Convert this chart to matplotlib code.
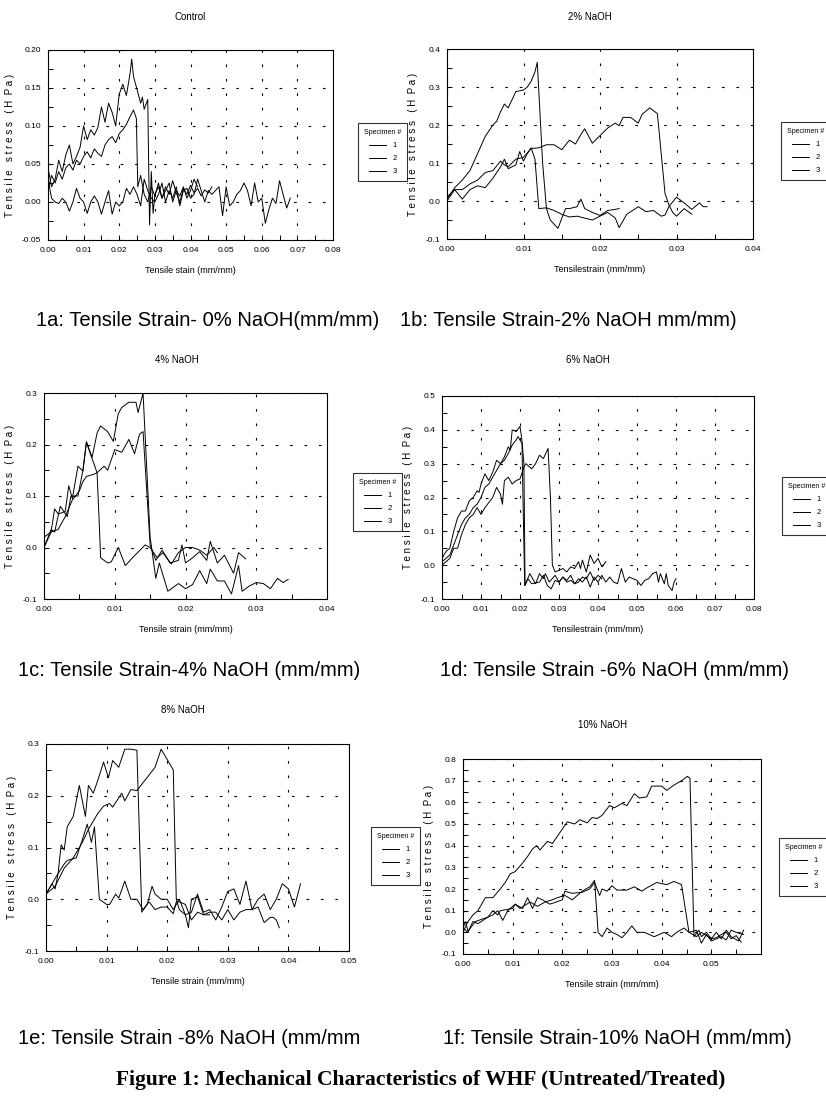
import matplotlib
matplotlib.use("Agg")
import matplotlib.pyplot as plt
from matplotlib.lines import Line2D
from matplotlib.ticker import MultipleLocator, FormatStrFormatter, FixedLocator

W, H = 826, 1110
SMALL = ['Liberation Sans', 'DejaVu Sans']

# ---- data: (strain mm/mm, stress MPa) per specimen ----
ctrl_s1 = [(0.000, 0.045), (0.001, 0.020), (0.002, 0.030), (0.003, 0.055), (0.004, 0.040), (0.005, 0.062),
           (0.006, 0.075), (0.007, 0.050), (0.008, 0.060), (0.009, 0.072), (0.010, 0.100), (0.011, 0.082),
           (0.012, 0.095), (0.013, 0.088), (0.014, 0.098), (0.015, 0.125), (0.016, 0.105), (0.017, 0.130),
           (0.018, 0.118), (0.019, 0.100), (0.020, 0.142), (0.021, 0.155), (0.022, 0.140), (0.023, 0.168),
           (0.0235, 0.188), (0.024, 0.165), (0.025, 0.148), (0.026, 0.130), (0.0265, 0.138), (0.027, 0.122),
           (0.028, 0.135), (0.0285, -0.030), (0.029, 0.040), (0.0295, -0.015), (0.030, 0.010), (0.031, 0.020),
           (0.032, 0.005), (0.033, 0.015), (0.034, 0.025), (0.035, 0.000), (0.036, 0.015), (0.037, 0.008),
           (0.038, 0.020), (0.039, 0.005), (0.040, 0.015), (0.041, 0.030), (0.042, 0.020)]
ctrl_s2 = [(0.000, 0.015), (0.001, 0.035), (0.002, 0.025), (0.003, 0.040), (0.004, 0.030), (0.005, 0.045),
           (0.006, 0.050), (0.007, 0.042), (0.008, 0.055), (0.009, 0.050), (0.010, 0.060), (0.011, 0.066),
           (0.012, 0.058), (0.013, 0.070), (0.014, 0.064), (0.015, 0.060), (0.016, 0.075), (0.017, 0.082),
           (0.018, 0.086), (0.019, 0.078), (0.020, 0.090), (0.021, 0.095), (0.022, 0.102), (0.023, 0.112),
           (0.024, 0.121), (0.0248, 0.110), (0.0252, 0.020), (0.026, 0.035), (0.027, 0.010), (0.028, 0.000),
           (0.029, 0.020), (0.030, 0.008), (0.031, 0.025), (0.032, 0.005), (0.033, 0.020), (0.034, 0.010),
           (0.035, 0.028), (0.036, 0.012), (0.037, 0.000), (0.038, 0.018), (0.039, 0.010), (0.040, 0.022),
           (0.041, 0.012), (0.042, 0.018), (0.043, 0.008), (0.044, 0.016), (0.045, 0.012), (0.046, 0.020)]
ctrl_s3 = [(0.000, 0.030), (0.001, 0.005), (0.002, 0.000), (0.003, -0.002), (0.004, 0.005), (0.005, 0.000),
           (0.006, -0.012), (0.007, 0.000), (0.008, 0.018), (0.009, 0.005), (0.010, 0.000), (0.011, -0.015),
           (0.012, 0.000), (0.013, 0.008), (0.014, 0.000), (0.015, -0.016), (0.016, 0.000), (0.017, 0.015),
           (0.018, -0.016), (0.019, 0.000), (0.020, -0.005), (0.021, 0.000), (0.022, 0.018), (0.023, 0.010),
           (0.024, 0.020), (0.025, 0.010), (0.026, -0.005), (0.027, 0.030), (0.028, 0.015), (0.029, 0.005),
           (0.030, 0.000), (0.031, 0.010), (0.032, 0.025), (0.033, 0.000), (0.034, 0.015), (0.035, 0.005),
           (0.036, 0.020), (0.037, -0.005), (0.038, 0.015), (0.039, 0.018), (0.040, 0.005), (0.041, 0.010),
           (0.042, 0.030), (0.043, 0.015), (0.044, 0.000), (0.045, 0.015), (0.046, 0.010), (0.047, 0.015),
           (0.048, 0.020), (0.049, -0.018), (0.050, 0.020), (0.051, -0.005), (0.052, 0.000), (0.053, 0.010),
           (0.054, 0.015), (0.055, 0.025), (0.056, 0.015), (0.057, -0.005), (0.058, 0.025), (0.059, 0.000),
           (0.060, 0.005), (0.061, -0.028), (0.062, -0.010), (0.063, 0.005), (0.064, -0.002), (0.065, 0.028),
           (0.066, 0.010), (0.067, -0.008), (0.068, 0.005)]

naoh2_s1 = [(0.000, 0.005), (0.001, 0.035), (0.002, 0.055), (0.003, 0.080), (0.004, 0.125), (0.005, 0.170),
            (0.006, 0.200), (0.0065, 0.210), (0.007, 0.235), (0.0075, 0.255), (0.008, 0.245), (0.009, 0.288),
            (0.010, 0.292), (0.0105, 0.300), (0.011, 0.315), (0.0115, 0.340), (0.0118, 0.365), (0.0125, 0.100),
            (0.013, -0.020), (0.0135, -0.050), (0.0145, -0.072), (0.0155, -0.020), (0.016, -0.020),
            (0.017, -0.015), (0.0175, 0.005), (0.018, -0.020), (0.019, -0.030), (0.020, -0.038),
            (0.021, -0.025), (0.022, -0.022), (0.0225, -0.020)]
naoh2_s2 = [(0.000, 0.010), (0.001, 0.030), (0.002, 0.005), (0.003, 0.030), (0.004, 0.040), (0.005, 0.035),
            (0.006, 0.060), (0.007, 0.090), (0.0075, 0.110), (0.008, 0.085), (0.009, 0.095), (0.0095, 0.130),
            (0.010, 0.105), (0.0105, 0.125), (0.011, 0.140), (0.0115, 0.110), (0.012, -0.020), (0.013, -0.018),
            (0.014, -0.025), (0.015, -0.035), (0.016, -0.042), (0.017, -0.040), (0.018, -0.045), (0.019, -0.050),
            (0.020, -0.040), (0.021, -0.030), (0.022, -0.045), (0.0225, -0.070), (0.0235, -0.035),
            (0.025, -0.015), (0.026, -0.028), (0.027, -0.025), (0.028, -0.040), (0.0285, -0.037),
            (0.029, -0.015), (0.030, 0.010), (0.031, -0.005), (0.032, -0.022), (0.033, -0.005),
            (0.0335, -0.015), (0.034, -0.015)]
naoh2_s3 = [(0.000, 0.000), (0.001, 0.030), (0.002, 0.030), (0.003, 0.045), (0.004, 0.055), (0.005, 0.075),
            (0.006, 0.080), (0.007, 0.105), (0.0075, 0.095), (0.008, 0.090), (0.009, 0.110), (0.010, 0.115),
            (0.011, 0.138), (0.012, 0.140), (0.013, 0.148), (0.014, 0.148), (0.015, 0.135), (0.016, 0.160),
            (0.0168, 0.150), (0.0175, 0.175), (0.018, 0.190), (0.019, 0.152), (0.020, 0.172), (0.021, 0.192),
            (0.022, 0.205), (0.0225, 0.198), (0.023, 0.220), (0.024, 0.220), (0.025, 0.205), (0.0255, 0.228),
            (0.0265, 0.245), (0.0275, 0.230), (0.0285, 0.020), (0.029, -0.010), (0.0295, -0.030),
            (0.030, -0.040), (0.031, -0.020), (0.032, -0.035)]

naoh4_s1 = [(0.000, 0.000), (0.001, 0.030), (0.0015, 0.075), (0.002, 0.065), (0.003, 0.070), (0.0035, 0.120),
            (0.004, 0.095), (0.0048, 0.158), (0.0055, 0.148), (0.006, 0.205), (0.0068, 0.175), (0.0075, 0.222),
            (0.008, 0.236), (0.009, 0.225), (0.0098, 0.206), (0.0105, 0.260), (0.011, 0.272), (0.012, 0.282),
            (0.013, 0.282), (0.0133, 0.262), (0.014, 0.300), (0.015, 0.020), (0.0158, -0.060), (0.0163, -0.030),
            (0.0175, -0.085), (0.019, -0.070), (0.020, -0.080), (0.021, -0.072), (0.022, -0.045),
            (0.023, -0.070), (0.0235, -0.042), (0.0245, -0.065), (0.0255, -0.065), (0.0265, -0.090),
            (0.0275, -0.035), (0.028, -0.085), (0.029, -0.075), (0.030, -0.068), (0.031, -0.070),
            (0.032, -0.080), (0.033, -0.060), (0.0338, -0.068), (0.0345, -0.062)]
naoh4_s2 = [(0.000, 0.020), (0.001, 0.030), (0.002, 0.035), (0.003, 0.060), (0.004, 0.092), (0.005, 0.110),
            (0.0055, 0.128), (0.006, 0.138), (0.007, 0.142), (0.0075, 0.145), (0.0085, 0.158), (0.009, 0.150),
            (0.010, 0.190), (0.011, 0.185), (0.012, 0.210), (0.0128, 0.182), (0.0135, 0.220), (0.014, 0.225),
            (0.015, 0.005), (0.0158, -0.025), (0.0167, -0.005), (0.0178, -0.030), (0.019, -0.025),
            (0.0195, 0.005), (0.020, -0.030), (0.021, -0.020), (0.022, -0.008), (0.023, -0.025),
            (0.0235, 0.012), (0.0245, -0.030), (0.0255, -0.015), (0.0268, -0.050), (0.0275, -0.010),
            (0.0285, -0.022)]
naoh4_s3 = [(0.000, 0.000), (0.001, 0.035), (0.0015, 0.030), (0.0023, 0.080), (0.0033, 0.060), (0.0038, 0.100),
            (0.0048, 0.100), (0.0055, 0.150), (0.006, 0.205), (0.0066, 0.180), (0.007, 0.165), (0.0075, 0.145),
            (0.0078, 0.050), (0.008, -0.020), (0.009, -0.030), (0.0095, -0.028), (0.0105, 0.000),
            (0.0115, -0.035), (0.0125, -0.020), (0.0143, 0.005), (0.015, 0.000), (0.016, -0.020),
            (0.0168, -0.010), (0.018, -0.032), (0.019, -0.010), (0.020, 0.000), (0.021, 0.000),
            (0.022, -0.005), (0.023, -0.015), (0.024, 0.000), (0.0245, -0.010)]

naoh6_s1 = [(0.000, 0.020), (0.001, 0.040), (0.002, 0.050), (0.003, 0.100), (0.004, 0.140), (0.0045, 0.150),
            (0.005, 0.160), (0.006, 0.160), (0.007, 0.190), (0.008, 0.200), (0.009, 0.220), (0.0095, 0.215),
            (0.010, 0.240), (0.011, 0.270), (0.012, 0.250), (0.013, 0.275), (0.014, 0.310), (0.015, 0.300),
            (0.016, 0.320), (0.017, 0.350), (0.0175, 0.340), (0.018, 0.400), (0.019, 0.395), (0.020, 0.410),
            (0.0205, 0.370), (0.021, 0.300), (0.0213, -0.060), (0.0225, -0.025), (0.024, -0.055),
            (0.025, -0.025), (0.026, -0.040), (0.0265, -0.025), (0.0275, -0.050), (0.029, -0.030),
            (0.030, -0.050), (0.031, -0.035), (0.032, -0.045), (0.033, -0.030), (0.034, -0.055),
            (0.035, -0.050), (0.036, -0.035), (0.037, -0.040), (0.038, -0.020), (0.039, -0.045),
            (0.040, -0.030), (0.041, -0.040)]
naoh6_s2 = [(0.000, 0.010), (0.001, 0.020), (0.002, 0.030), (0.003, 0.060), (0.004, 0.090), (0.005, 0.120),
            (0.006, 0.140), (0.007, 0.150), (0.008, 0.170), (0.009, 0.180), (0.010, 0.200), (0.011, 0.230),
            (0.012, 0.240), (0.013, 0.260), (0.014, 0.280), (0.015, 0.300), (0.016, 0.310), (0.017, 0.330),
            (0.018, 0.355), (0.019, 0.370), (0.0195, 0.380), (0.0205, 0.360), (0.0212, -0.060), (0.022, -0.040),
            (0.023, -0.055), (0.025, -0.050), (0.026, -0.030), (0.027, -0.060), (0.028, -0.070),
            (0.029, -0.045), (0.030, -0.050), (0.031, -0.035), (0.032, -0.050), (0.033, -0.045),
            (0.034, -0.055), (0.035, -0.040), (0.036, -0.050), (0.037, -0.035), (0.038, -0.065),
            (0.039, -0.035), (0.040, -0.050), (0.041, -0.030), (0.042, -0.050), (0.043, -0.035),
            (0.044, -0.050), (0.045, -0.055), (0.046, -0.010), (0.047, -0.050), (0.048, -0.035),
            (0.049, -0.040), (0.050, -0.045), (0.051, -0.060), (0.052, -0.045), (0.053, -0.040),
            (0.054, -0.025), (0.055, -0.020), (0.0555, -0.050), (0.056, -0.025), (0.057, -0.055),
            (0.0575, -0.025), (0.058, -0.060), (0.059, -0.075), (0.0595, -0.050), (0.060, -0.040)]
naoh6_s3 = [(0.000, 0.000), (0.001, 0.010), (0.002, 0.020), (0.003, 0.050), (0.004, 0.050), (0.005, 0.090),
            (0.006, 0.120), (0.007, 0.140), (0.008, 0.150), (0.009, 0.170), (0.010, 0.150), (0.011, 0.170),
            (0.012, 0.185), (0.013, 0.200), (0.014, 0.230), (0.015, 0.210), (0.0155, 0.180), (0.016, 0.250),
            (0.017, 0.260), (0.018, 0.240), (0.019, 0.250), (0.020, 0.255), (0.021, 0.290), (0.0215, 0.300),
            (0.022, 0.295), (0.023, 0.285), (0.024, 0.300), (0.025, 0.325), (0.026, 0.315), (0.0272, 0.345),
            (0.0278, 0.200), (0.0283, 0.000), (0.029, -0.020), (0.030, -0.015), (0.031, -0.010),
            (0.032, -0.020), (0.033, -0.005), (0.034, -0.010), (0.035, 0.010), (0.0355, -0.010),
            (0.036, 0.015), (0.037, -0.020), (0.038, 0.030), (0.039, 0.005), (0.040, 0.020), (0.041, -0.005),
            (0.042, 0.010)]

naoh8_s1 = [(0.000, 0.010), (0.001, 0.030), (0.0015, 0.020), (0.002, 0.050), (0.0025, 0.105), (0.003, 0.095),
            (0.0035, 0.140), (0.0045, 0.160), (0.0055, 0.220), (0.0065, 0.160), (0.007, 0.220), (0.0078, 0.205),
            (0.0085, 0.228), (0.0095, 0.265), (0.0103, 0.235), (0.011, 0.268), (0.012, 0.255), (0.013, 0.290),
            (0.014, 0.290), (0.015, 0.288), (0.0158, -0.025), (0.0167, -0.010), (0.0175, 0.025), (0.018, 0.010),
            (0.019, 0.000), (0.020, 0.000), (0.021, -0.020), (0.022, 0.000), (0.023, -0.030), (0.024, -0.025),
            (0.025, 0.010), (0.026, -0.025), (0.027, -0.020), (0.028, -0.040), (0.029, -0.015), (0.030, 0.015),
            (0.031, 0.020), (0.032, -0.010), (0.033, 0.035), (0.034, -0.020), (0.035, 0.000), (0.036, 0.010),
            (0.037, -0.020), (0.038, 0.000), (0.039, 0.030), (0.040, 0.020), (0.041, -0.015), (0.042, 0.030)]
naoh8_s2 = [(0.000, 0.010), (0.0015, 0.025), (0.003, 0.060), (0.0045, 0.080), (0.006, 0.110), (0.007, 0.135),
            (0.0085, 0.165), (0.0095, 0.180), (0.0105, 0.185), (0.011, 0.178), (0.0125, 0.205), (0.013, 0.190),
            (0.014, 0.212), (0.015, 0.210), (0.016, 0.225), (0.017, 0.240), (0.018, 0.255), (0.019, 0.290),
            (0.020, 0.270), (0.021, 0.250), (0.0215, 0.000), (0.022, -0.020), (0.023, -0.030), (0.0235, -0.055),
            (0.024, 0.000), (0.025, 0.005), (0.026, -0.030), (0.027, -0.025), (0.028, -0.025), (0.029, -0.040),
            (0.030, -0.020), (0.031, -0.040), (0.032, -0.025), (0.033, -0.020), (0.034, -0.020),
            (0.035, -0.015), (0.036, -0.045), (0.037, -0.035), (0.0375, -0.035), (0.038, -0.040),
            (0.0385, -0.055)]
naoh8_s3 = [(0.000, 0.010), (0.001, 0.030), (0.002, 0.050), (0.003, 0.068), (0.0035, 0.075), (0.005, 0.080),
            (0.006, 0.115), (0.0068, 0.145), (0.0075, 0.110), (0.008, 0.140), (0.0088, 0.000), (0.010, -0.010),
            (0.0105, -0.010), (0.0115, 0.010), (0.012, 0.002), (0.013, 0.035), (0.014, 0.000), (0.015, 0.000),
            (0.016, -0.020), (0.017, -0.005), (0.018, -0.020), (0.019, -0.015), (0.020, -0.015),
            (0.021, -0.028), (0.0215, -0.005), (0.022, -0.005), (0.023, -0.010), (0.024, -0.040),
            (0.025, -0.025), (0.026, -0.030), (0.027, -0.030)]

naoh10_s1 = [(0.000, 0.000), (0.001, 0.050), (0.002, 0.080), (0.003, 0.100), (0.0045, 0.160), (0.006, 0.160),
             (0.0075, 0.200), (0.0085, 0.230), (0.0095, 0.270), (0.0105, 0.280), (0.012, 0.320), (0.013, 0.350),
             (0.014, 0.385), (0.0148, 0.400), (0.0155, 0.380), (0.017, 0.420), (0.018, 0.410), (0.0195, 0.460),
             (0.021, 0.510), (0.0225, 0.500), (0.0235, 0.520), (0.025, 0.505), (0.026, 0.530), (0.027, 0.525),
             (0.028, 0.540), (0.0295, 0.585), (0.0305, 0.575), (0.032, 0.595), (0.033, 0.585), (0.0345, 0.640),
             (0.0355, 0.620), (0.037, 0.625), (0.038, 0.675), (0.040, 0.675), (0.041, 0.655), (0.0425, 0.680),
             (0.044, 0.700), (0.0452, 0.720), (0.0457, 0.710), (0.0465, -0.020), (0.0475, 0.010),
             (0.048, -0.020), (0.049, 0.000), (0.050, -0.030), (0.051, -0.025), (0.052, -0.010), (0.053, 0.000),
             (0.054, -0.030), (0.055, -0.015), (0.056, -0.045)]
naoh10_s2 = [(0.000, 0.020), (0.001, 0.000), (0.002, 0.050), (0.003, 0.040), (0.004, 0.055), (0.005, 0.070),
             (0.006, 0.080), (0.007, 0.100), (0.008, 0.055), (0.009, 0.100), (0.0105, 0.130), (0.012, 0.110),
             (0.013, 0.160), (0.014, 0.110), (0.015, 0.160), (0.016, 0.150), (0.0175, 0.130), (0.020, 0.150),
             (0.0205, 0.190), (0.022, 0.180), (0.024, 0.185), (0.0255, 0.200), (0.0265, 0.230), (0.0275, 0.170),
             (0.028, 0.200), (0.029, 0.190), (0.030, 0.215), (0.031, 0.195), (0.033, 0.195), (0.0345, 0.210),
             (0.036, 0.190), (0.037, 0.205), (0.039, 0.230), (0.041, 0.220), (0.0425, 0.235), (0.044, 0.220),
             (0.0455, 0.000), (0.047, 0.010), (0.048, -0.050), (0.049, -0.010), (0.050, -0.040),
             (0.052, -0.020), (0.053, -0.035), (0.054, 0.010), (0.055, 0.000), (0.0565, -0.010)]
naoh10_s3 = [(0.000, 0.020), (0.0005, 0.050), (0.001, 0.005), (0.0025, 0.050), (0.005, 0.070), (0.006, 0.100),
             (0.007, 0.080), (0.0075, 0.100), (0.010, 0.110), (0.0105, 0.130), (0.0115, 0.110), (0.0135, 0.140),
             (0.015, 0.120), (0.0165, 0.140), (0.018, 0.150), (0.019, 0.160), (0.0205, 0.170), (0.022, 0.150),
             (0.024, 0.190), (0.0255, 0.210), (0.0265, 0.240), (0.0272, 0.000), (0.028, -0.020), (0.029, 0.020),
             (0.030, 0.000), (0.031, -0.010), (0.032, -0.025), (0.033, 0.000), (0.034, 0.030), (0.035, 0.000),
             (0.0365, 0.000), (0.0385, -0.020), (0.0405, 0.000), (0.042, -0.020), (0.043, 0.000),
             (0.0445, 0.020), (0.0455, 0.000), (0.047, -0.020), (0.048, 0.000), (0.050, -0.030), (0.051, 0.000),
             (0.052, -0.030), (0.053, 0.010), (0.054, -0.020), (0.0555, -0.040), (0.0565, 0.010)]

specimen_labels = ['1', '2', '3']
panel_titles = ['Control', '2% NaOH', '4% NaOH', '6% NaOH', '8% NaOH', '10% NaOH']
captions = ['1a: Tensile Strain- 0% NaOH(mm/mm)', '1b: Tensile Strain-2% NaOH mm/mm)',
            '1c: Tensile Strain-4% NaOH (mm/mm)', '1d: Tensile Strain -6% NaOH (mm/mm)',
            '1e: Tensile Strain -8% NaOH (mm/mm', '1f: Tensile Strain-10% NaOH (mm/mm)']
xlabels = ['Tensile stain (mm/mm)', 'Tensilestrain (mm/mm)', 'Tensile strain (mm/mm)',
           'Tensilestrain (mm/mm)', 'Tensile strain (mm/mm)', 'Tensile strain (mm/mm)']
series = [(ctrl_s1, ctrl_s2, ctrl_s3), (naoh2_s1, naoh2_s2, naoh2_s3), (naoh4_s1, naoh4_s2, naoh4_s3),
          (naoh6_s1, naoh6_s2, naoh6_s3), (naoh8_s1, naoh8_s2, naoh8_s3), (naoh10_s1, naoh10_s2, naoh10_s3)]

# ---- layout (pixel positions) ----
# axes box (left, top, right, bottom), title centre, legend top-left, caption left/centre-y
layout = [
    dict(box=(48, 50, 333, 240), title=(190, 17), legend=(358, 123), caption=(36, 321),
         xmax=0.08, xticks=0.08, ylim=(-0.05, 0.20), ystep=0.05, yfmt='%.2f'),
    dict(box=(447, 49, 753, 239), title=(590, 17), legend=(781, 122), caption=(400, 321),
         xmax=0.04, xticks=0.04, ylim=(-0.1, 0.4), ystep=0.1, yfmt='%.1f'),
    dict(box=(44, 393, 327, 599), title=(177, 360), legend=(353, 473), caption=(18, 670),
         xmax=0.04, xticks=0.04, ylim=(-0.1, 0.3), ystep=0.1, yfmt='%.1f'),
    dict(box=(442, 396, 754, 599), title=(588, 360), legend=(782, 477), caption=(440, 670),
         xmax=0.08, xticks=0.08, ylim=(-0.1, 0.5), ystep=0.1, yfmt='%.1f'),
    dict(box=(46, 744, 349, 951), title=(183, 710), legend=(371, 827), caption=(18, 1038),
         xmax=0.05, xticks=0.05, ylim=(-0.1, 0.3), ystep=0.1, yfmt='%.1f'),
    dict(box=(463, 759, 761, 954), title=(603, 725), legend=(779, 838), caption=(443, 1038),
         xmax=0.06, xticks=0.05, ylim=(-0.1, 0.8), ystep=0.1, yfmt='%.1f'),
]

GRID_DASH = (0, (2.4, 10.6))


def fx(px):
    return px / W


def fy(py):
    return 1 - py / H


def draw_panel(fig, spec, data, title, xlabel, caption):
    xl, yt, xr, yb = spec['box']
    ax = fig.add_axes([fx(xl), fy(yb), (xr - xl) / W, (yb - yt) / H])
    for pts in data:
        xs = [p[0] for p in pts]
        ys = [p[1] for p in pts]
        ax.plot(xs, ys, color='black', lw=0.7)

    ax.set_xlim(0, spec['xmax'])
    ax.set_ylim(*spec['ylim'])
    nmaj = int(round(spec['xticks'] / 0.01))
    ax.xaxis.set_major_locator(FixedLocator([i * 0.01 for i in range(nmaj + 1)]))
    ax.xaxis.set_minor_locator(MultipleLocator(0.005))
    ax.yaxis.set_major_locator(MultipleLocator(spec['ystep']))
    ax.yaxis.set_minor_locator(MultipleLocator(spec['ystep'] / 2))
    ax.xaxis.set_major_formatter(FormatStrFormatter('%.2f'))
    ax.yaxis.set_major_formatter(FormatStrFormatter(spec['yfmt']))
    ax.tick_params(which='both', direction='in', top=False, right=False,
                   length=3.5, width=0.7, labelsize=6, pad=5)
    for lab in ax.get_xticklabels() + ax.get_yticklabels():
        lab.set_family(SMALL)
    for s in ax.spines.values():
        s.set_linewidth(0.8)
    ax.grid(True, which='major', color='black', linestyle=GRID_DASH, linewidth=0.8)

    ax.set_ylabel('T e n s i l e   s t r e s s   ( H  P a )', fontsize=7, family=SMALL, labelpad=5)
    ax.set_xlabel(xlabel, fontsize=6.5, family=SMALL, labelpad=9)

    tx, ty = spec['title']
    fig.text(fx(tx), fy(ty), title, fontsize=7, family=SMALL, ha='center', va='center')

    handles = [Line2D([], [], color='black', lw=0.7) for _ in specimen_labels]
    lx, ly = spec['legend']
    leg = ax.legend(handles, specimen_labels, title='Specimen #', loc='upper left',
                    bbox_to_anchor=(fx(lx), fy(ly)), bbox_transform=fig.transFigure,
                    fontsize=5.5, title_fontsize=5, frameon=True, fancybox=False,
                    edgecolor='black', handlelength=2.2, handletextpad=0.9,
                    borderpad=0.8, labelspacing=0.75, borderaxespad=0)
    leg.get_frame().set_linewidth(0.8)
    for t in leg.get_texts() + [leg.get_title()]:
        t.set_family(SMALL)

    cx, cy = spec['caption']
    fig.text(fx(cx), fy(cy), caption, fontsize=14.5, family='Liberation Sans', ha='left', va='center')


fig = plt.figure(figsize=(W / 100, H / 100), dpi=100)
for spec, data, title, xlabel, caption in zip(layout, series, panel_titles, xlabels, captions):
    draw_panel(fig, spec, data, title, xlabel, caption)

fig.text(fx(421), fy(1080), 'Figure 1: Mechanical Characteristics of WHF (Untreated/Treated)',
         fontsize=15.5, family='Liberation Serif', weight='bold', ha='center', va='center')

fig.savefig('out.png', dpi=100)
